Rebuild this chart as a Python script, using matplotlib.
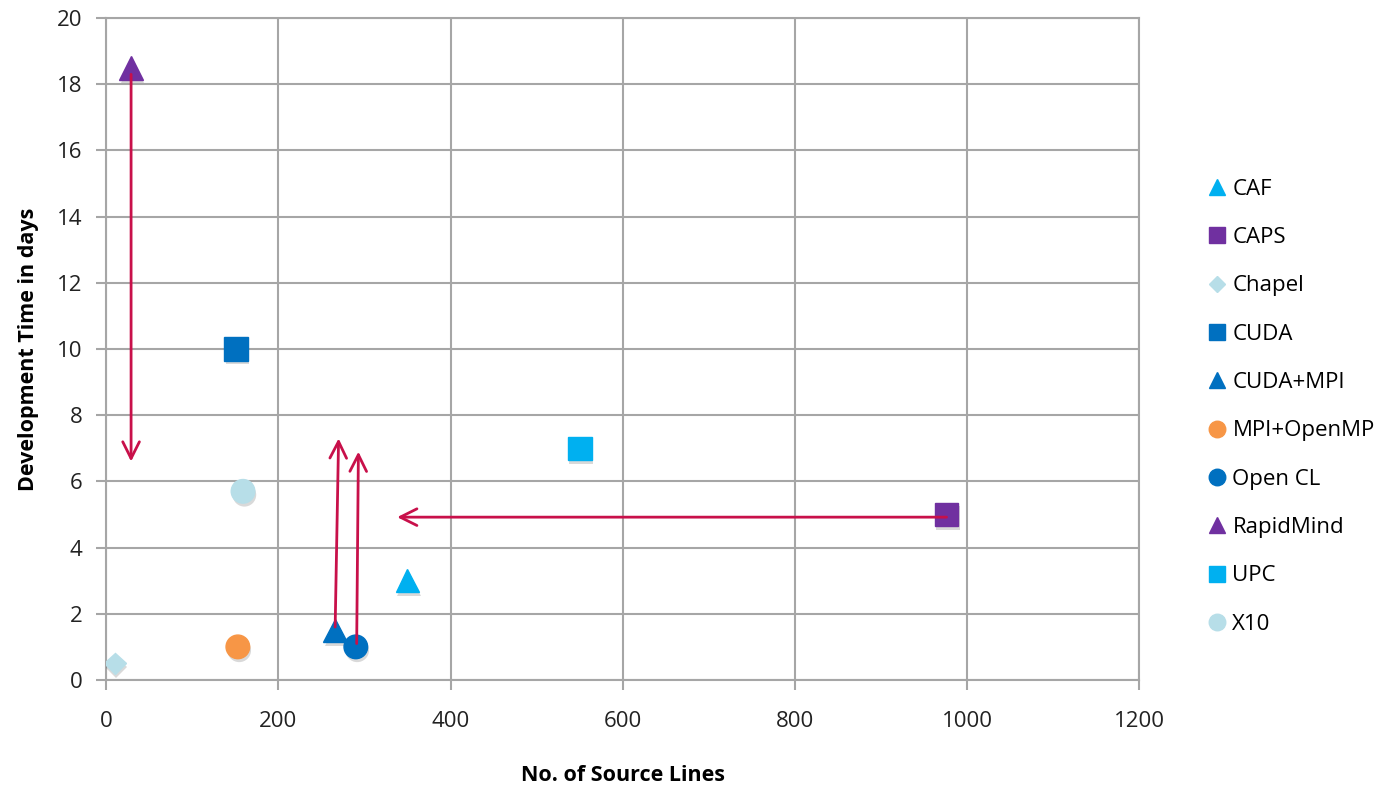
import matplotlib.pyplot as plt
import matplotlib.patheffects as pe

# languages, source lines, development days
names = ['CAF', 'CAPS', 'Chapel', 'CUDA', 'CUDA+MPI', 'MPI+OpenMP',
         'Open CL', 'RapidMind', 'UPC', 'X10']
lines = [350, 976, 10, 151, 266, 153, 290, 29, 550, 159]
days = [3, 5, 0.5, 10, 1.5, 1, 1, 18.5, 7, 5.7]
markers = ['^', 's', 'D', 's', '^', 'o', 'o', '^', 's', 'o']
colors = ['#00B0F0', '#7030A0', '#B7DEE8', '#0070C0', '#0070C0', '#F79646',
          '#0070C0', '#7030A0', '#00B0F0', '#B7DEE8']

# arrows (start -> end) in data coords
arrow_start = [(29, 18.3), (266, 1.6), (291, 1.1), (976, 4.92)]
arrow_end = [(29, 6.6), (270, 7.3), (293, 6.9), (338, 4.92)]

fig = plt.figure(figsize=(13.87, 7.87), dpi=100)
ax = fig.add_axes([0.0765, 0.136, 0.745, 0.841])

sizes = {'^': 17, 's': 17, 'D': 11, 'o': 17}
shadow = [pe.SimplePatchShadow(offset=(1, -2.5), shadow_rgbFace='k', alpha=0.15), pe.Normal()]
for n, x, y, m, c in zip(names, lines, days, markers, colors):
    ax.plot(x, y, linestyle='none', marker=m, ms=sizes[m], color=c, mec=c,
            label=n, zorder=3, path_effects=shadow)

for s, e in zip(arrow_start, arrow_end):
    ax.annotate('', xy=e, xytext=s,
                arrowprops=dict(arrowstyle='->', color='#C8104A', lw=2,
                                mutation_scale=30, shrinkA=0, shrinkB=0),
                zorder=4)

ax.set_xlim(0, 1200)
ax.set_ylim(0, 20)
ax.set_xticks(range(0, 1201, 200))
ax.set_yticks(range(0, 21, 2))
ax.grid(True, color='#A6A6A6', lw=1.5)
ax.set_axisbelow(True)
for sp in ax.spines.values():
    sp.set_color('#A6A6A6')
    sp.set_linewidth(1.5)
ax.tick_params(colors='#A6A6A6', length=7, width=1.5, labelcolor='#222222')
for lab in ax.get_xticklabels() + ax.get_yticklabels():
    lab.set_fontfamily('Open Sans')
    lab.set_fontsize(16)
ax.tick_params(axis='x', pad=15)
ax.tick_params(axis='y', pad=10)

ax.set_xlabel('No. of Source Lines', fontfamily='Open Sans', fontweight='bold',
              fontsize=15.5, labelpad=24)
ax.set_ylabel('Development Time in days', fontfamily='Open Sans', fontweight='bold',
              fontsize=15.5, labelpad=13)

leg = ax.legend(loc='center left', bbox_to_anchor=(1.047, 0.413), frameon=False,
                prop={'family': 'Open Sans', 'size': 16}, labelspacing=1.23,
                handlelength=0.8, handletextpad=0.3, markerscale=0.7)
for h in leg.legend_handles:
    h.set_path_effects([])

fig.savefig('out.png', dpi=100)
